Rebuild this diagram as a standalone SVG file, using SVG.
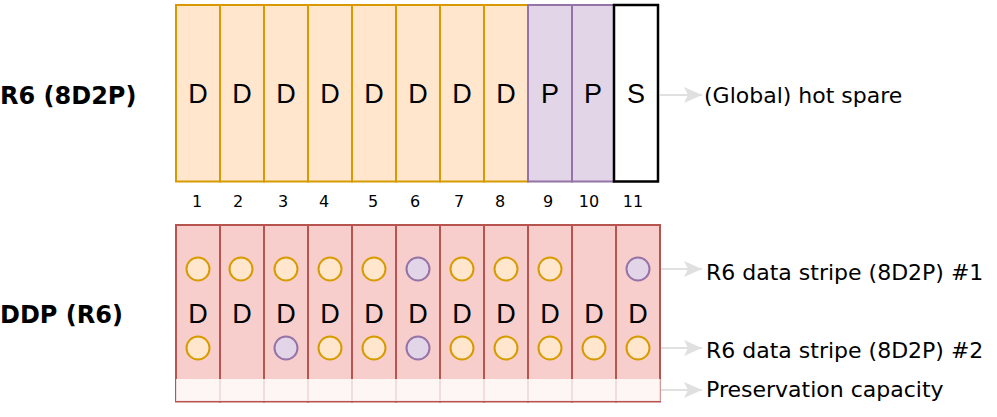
<svg xmlns="http://www.w3.org/2000/svg" width="997" height="417" viewBox="0 0 997 417">
<defs>
<style>
.dcol{fill:#ffe6cc;stroke:#d79b00;stroke-width:2}
.pcol{fill:#e1d5e7;stroke:#9673a6;stroke-width:2}
.scol{fill:#ffffff;stroke:#000000;stroke-width:2.5}
.rcol{fill:#f8cecc;stroke:#b85450;stroke-width:2}
.co{fill:#ffe6cc;stroke:#d79b00;stroke-width:2}
.cp{fill:#e1d5e7;stroke:#9673a6;stroke-width:2}
.big{font-family:"Liberation Sans",Arial,sans-serif;font-size:27px;fill:#000;text-anchor:middle}
.num{font-family:"DejaVu Sans",Verdana,sans-serif;font-size:16px;fill:#000;text-anchor:middle}
.lbl{font-family:"DejaVu Sans",Verdana,sans-serif;font-size:22px;fill:#000}
.ttl{font-family:"DejaVu Sans",Verdana,sans-serif;font-size:24px;font-weight:bold;fill:#000}
.conn{stroke:#e0e0e0;stroke-width:2;fill:none}
</style>
<marker id="ah" markerUnits="userSpaceOnUse" markerWidth="20" markerHeight="16" refX="18" refY="8" orient="auto">
<path d="M0,0 L18,8 L0,16 L4,8 Z" fill="#e0e0e0"/>
</marker>
</defs>

<text class="ttl" x="0" y="104">R6 (8D2P)</text>
<text class="ttl" x="0" y="323">DDP (R6)</text>

<g id="r6-row">
<g id="r6-d1"><rect class="dcol" x="176" y="5" width="44" height="176.5"/><text class="big" x="198" y="103">D</text></g>
<g id="r6-d2"><rect class="dcol" x="220" y="5" width="44" height="176.5"/><text class="big" x="242" y="103">D</text></g>
<g id="r6-d3"><rect class="dcol" x="264" y="5" width="44" height="176.5"/><text class="big" x="286" y="103">D</text></g>
<g id="r6-d4"><rect class="dcol" x="308" y="5" width="44" height="176.5"/><text class="big" x="330" y="103">D</text></g>
<g id="r6-d5"><rect class="dcol" x="352" y="5" width="44" height="176.5"/><text class="big" x="374" y="103">D</text></g>
<g id="r6-d6"><rect class="dcol" x="396" y="5" width="44" height="176.5"/><text class="big" x="418" y="103">D</text></g>
<g id="r6-d7"><rect class="dcol" x="440" y="5" width="44" height="176.5"/><text class="big" x="462" y="103">D</text></g>
<g id="r6-d8"><rect class="dcol" x="484" y="5" width="44" height="176.5"/><text class="big" x="506" y="103">D</text></g>
<g id="r6-p9"><rect class="pcol" x="528" y="5" width="44" height="176.5"/><text class="big" x="550" y="103">P</text></g>
<g id="r6-p10"><rect class="pcol" x="572" y="5" width="42" height="176.5"/><text class="big" x="593" y="103">P</text></g>
<g id="r6-s11"><rect class="scol" x="614" y="5" width="44" height="176.5"/><text class="big" x="636" y="103">S</text></g>
</g>

<g id="numbers">
<text class="num" x="197" y="207">1</text>
<text class="num" x="238" y="207">2</text>
<text class="num" x="283" y="207">3</text>
<text class="num" x="324" y="207">4</text>
<text class="num" x="373" y="207">5</text>
<text class="num" x="415" y="207">6</text>
<text class="num" x="459" y="207">7</text>
<text class="num" x="500" y="207">8</text>
<text class="num" x="548" y="207">9</text>
<text class="num" x="589" y="207">10</text>
<text class="num" x="633" y="207">11</text>
</g>

<g id="ddp-row">
<g id="ddp-1"><rect class="rcol" x="176" y="225" width="44" height="176.5"/><text class="big" x="198" y="323">D</text><circle class="co" cx="198" cy="269" r="11.5"/><circle class="co" cx="198" cy="348" r="11.5"/></g>
<g id="ddp-2"><rect class="rcol" x="220" y="225" width="44" height="176.5"/><text class="big" x="242" y="323">D</text><circle class="co" cx="241" cy="269" r="11.5"/></g>
<g id="ddp-3"><rect class="rcol" x="264" y="225" width="44" height="176.5"/><text class="big" x="286" y="323">D</text><circle class="co" cx="286" cy="269" r="11.5"/><circle class="cp" cx="286" cy="348" r="11.5"/></g>
<g id="ddp-4"><rect class="rcol" x="308" y="225" width="44" height="176.5"/><text class="big" x="330" y="323">D</text><circle class="co" cx="330" cy="269" r="11.5"/><circle class="co" cx="330" cy="348" r="11.5"/></g>
<g id="ddp-5"><rect class="rcol" x="352" y="225" width="44" height="176.5"/><text class="big" x="374" y="323">D</text><circle class="co" cx="374" cy="269" r="11.5"/><circle class="co" cx="374" cy="348" r="11.5"/></g>
<g id="ddp-6"><rect class="rcol" x="396" y="225" width="44" height="176.5"/><text class="big" x="418" y="323">D</text><circle class="cp" cx="418" cy="269" r="11.5"/><circle class="cp" cx="418" cy="348" r="11.5"/></g>
<g id="ddp-7"><rect class="rcol" x="440" y="225" width="44" height="176.5"/><text class="big" x="462" y="323">D</text><circle class="co" cx="462" cy="269" r="11.5"/><circle class="co" cx="462" cy="348" r="11.5"/></g>
<g id="ddp-8"><rect class="rcol" x="484" y="225" width="44" height="176.5"/><text class="big" x="506" y="323">D</text><circle class="co" cx="506" cy="269" r="11.5"/><circle class="co" cx="506" cy="348" r="11.5"/></g>
<g id="ddp-9"><rect class="rcol" x="528" y="225" width="44" height="176.5"/><text class="big" x="550" y="323">D</text><circle class="co" cx="550" cy="269" r="11.5"/><circle class="co" cx="550" cy="348" r="11.5"/></g>
<g id="ddp-10"><rect class="rcol" x="572" y="225" width="44" height="176.5"/><text class="big" x="594" y="323">D</text><circle class="co" cx="594" cy="348" r="11.5"/></g>
<g id="ddp-11"><rect class="rcol" x="616" y="225" width="44" height="176.5"/><text class="big" x="638" y="323">D</text><circle class="cp" cx="638" cy="269" r="11.5"/><circle class="co" cx="638" cy="348" r="11.5"/></g>
<rect id="preservation" x="176" y="379" width="484.5" height="22" fill="#ffffff" fill-opacity="0.8"/>
</g>

<g id="connectors">
<line class="conn" x1="660" y1="95" x2="702" y2="95" marker-end="url(#ah)"/>
<line class="conn" x1="661" y1="269" x2="702" y2="269" marker-end="url(#ah)"/>
<line class="conn" x1="661" y1="348" x2="702" y2="348" marker-end="url(#ah)"/>
<line class="conn" x1="661" y1="390" x2="702" y2="390" marker-end="url(#ah)"/>
</g>

<g id="labels">
<text class="lbl" x="704" y="103">(Global) hot spare</text>
<text class="lbl" x="706" y="280">R6 data stripe (8D2P) #1</text>
<text class="lbl" x="706" y="358">R6 data stripe (8D2P) #2</text>
<text class="lbl" x="706" y="397">Preservation capacity</text>
</g>
</svg>
